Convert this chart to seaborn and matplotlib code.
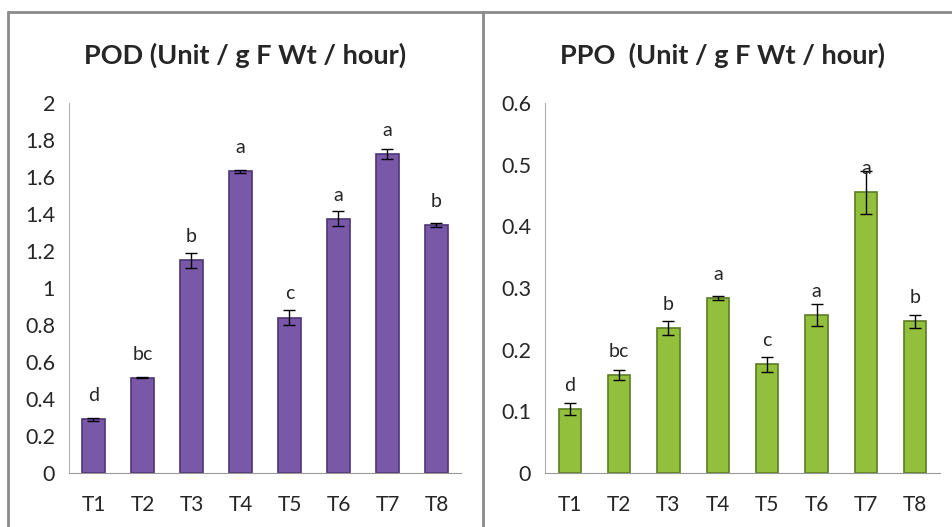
import matplotlib
matplotlib.use("Agg")
import matplotlib.pyplot as plt
import seaborn as sns
import pandas as pd
from matplotlib.lines import Line2D

treatments = ["T1", "T2", "T3", "T4", "T5", "T6", "T7", "T8"]

pod_mean = [0.29, 0.515, 1.15, 1.63, 0.84, 1.375, 1.725, 1.34]
pod_err = [0.01, 0.003, 0.04, 0.008, 0.04, 0.04, 0.028, 0.01]
pod_letters = ["d", "bc", "b", "a", "c", "a", "a", "b"]

ppo_mean = [0.104, 0.159, 0.235, 0.284, 0.176, 0.256, 0.455, 0.246]
ppo_err = [0.01, 0.008, 0.012, 0.003, 0.012, 0.018, 0.035, 0.011]
ppo_letters = ["d", "bc", "b", "a", "c", "a", "a", "b"]

sns.set_style("white")
plt.rcParams["font.family"] = ["Lato", "DejaVu Sans"]


def panel(ax, mean, err, letters, color, edge, title, ymax, step):
    df = pd.DataFrame({"treat": treatments, "val": mean})
    sns.barplot(data=df, x="treat", y="val", color=color, width=0.45,
                edgecolor=edge, linewidth=1.2, saturation=1, ax=ax)
    ax.errorbar(range(len(treatments)), mean, yerr=err, fmt="none",
                ecolor="black", elinewidth=1, capsize=4, capthick=1)
    for i, (m, lab) in enumerate(zip(mean, letters)):
        ax.annotate(lab, (i, m), xytext=(0, 17), textcoords="offset points",
                    ha="center", va="center", fontsize=14)
    n = int(round(ymax / step))
    ax.set_ylim(0, ymax)
    ax.set_xlim(-0.5, 7.5)
    ax.set_yticks([step * k for k in range(n + 1)])
    ax.set_yticklabels([f"{step * k:.1f}".rstrip("0").rstrip(".") for k in range(n + 1)])
    ax.set_xticks(range(8))
    ax.set_xticklabels(treatments)
    ax.set_xticks([k - 0.5 for k in range(9)], minor=True)
    ax.tick_params(axis="x", which="major", length=0, pad=16, labelsize=15)
    ax.tick_params(axis="x", which="minor", length=6, color="#999999", direction="out")
    ax.tick_params(axis="y", length=5, color="#999999", direction="out", labelsize=15.5, pad=5)
    ax.set_xlabel("")
    ax.set_ylabel("")
    for s in ["top", "right"]:
        ax.spines[s].set_visible(False)
    ax.spines["left"].set_color("#b0b0b0")
    ax.spines["bottom"].set_color("#999999")
    # title sits a bit left of the axes centre, as in the original
    ax.text(0.45, 1.13, title, transform=ax.transAxes, ha="center", va="center",
            fontsize=19.5, fontweight="bold")


fig = plt.figure(figsize=(9.53, 5.27), dpi=100)
ax1 = fig.add_axes([69 / 953, 54 / 527, (461 - 69) / 953, (473 - 103) / 527])
ax2 = fig.add_axes([545 / 953, 54 / 527, (940 - 545) / 953, (473 - 103) / 527])

panel(ax1, pod_mean, pod_err, pod_letters, "#7a58a8", "#4e3575",
      "POD (Unit / g F Wt / hour)", 2.0, 0.2)
panel(ax2, ppo_mean, ppo_err, ppo_letters, "#92bf3c", "#5c7d22",
      "PPO  (Unit / g F Wt / hour)", 0.6, 0.1)

# panel frames
gray = "#8a8a8a"
fig.add_artist(Line2D([8 / 953, 1], [1 - 12 / 527] * 2, color=gray, lw=2, transform=fig.transFigure))
fig.add_artist(Line2D([8 / 953] * 2, [0, 1 - 12 / 527], color=gray, lw=2, transform=fig.transFigure))
fig.add_artist(Line2D([483 / 953] * 2, [0, 1 - 12 / 527], color=gray, lw=2, transform=fig.transFigure))

fig.savefig("out.png", dpi=100)
